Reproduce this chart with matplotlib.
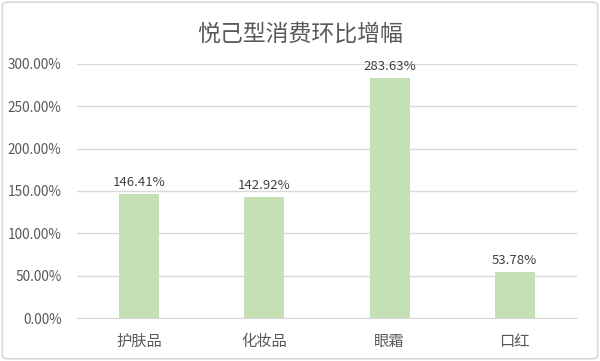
import matplotlib
matplotlib.use("Agg")
import matplotlib.pyplot as plt
from matplotlib.patches import FancyBboxPatch
from matplotlib.ticker import FuncFormatter

plt.rcParams['font.family'] = ['Noto Sans CJK SC', 'DejaVu Sans']

# 数据
categories = ['护肤品', '化妆品', '眼霜', '口红']
values = [146.41, 142.92, 283.63, 53.78]
yticks = [0, 50, 100, 150, 200, 250, 300]

fig = plt.figure(figsize=(6, 3.61), dpi=100)
ax = fig.add_axes([0.128, 0.119, 0.834, 0.704])

x = range(len(categories))
ax.bar(x, values, width=0.32, color='#C5E0B4', zorder=3)

for i, v in zip(x, values):
    ax.text(i, v + 6, f'{v:.2f}%', ha='center', va='bottom', fontsize=9.5, color='#404040')

ax.set_xlim(-0.5, len(categories) - 0.5)
ax.set_ylim(0, 300)
ax.set_yticks(yticks)
ax.yaxis.set_major_formatter(FuncFormatter(lambda v, p: f'{v:.2f}%'))
ax.set_xticks(list(x))
ax.set_xticklabels(categories)
ax.tick_params(axis='both', length=0, colors='#595959')
ax.tick_params(axis='x', pad=11, labelsize=11)
ax.tick_params(axis='y', pad=11, labelsize=9.75)
ax.grid(axis='y', color='#D9D9D9', linewidth=1, zorder=0)
for s in ['top', 'right', 'left']:
    ax.spines[s].set_visible(False)
ax.spines['bottom'].set_color('#D9D9D9')

fig.text(0.5, 0.906, '悦己型消费环比增幅', ha='center', va='center', fontsize=16.5, color='#595959')

# 外框
border = FancyBboxPatch((0.004, 0.006), 0.992, 0.988, boxstyle='round,pad=0,rounding_size=0.01',
                        transform=fig.transFigure, fill=False, edgecolor='#D9D9D9', linewidth=1.2)
fig.patches.append(border)

fig.savefig('out.png', dpi=100)
